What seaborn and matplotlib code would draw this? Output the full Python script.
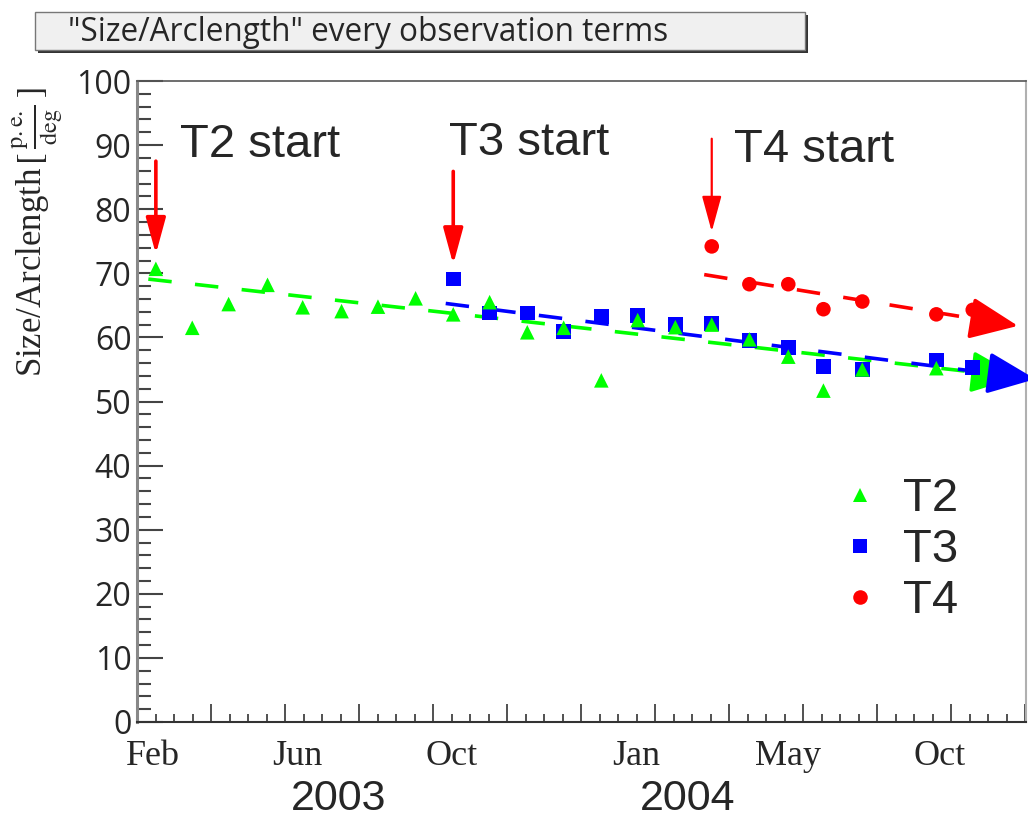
import numpy as np
import pandas as pd
import matplotlib
matplotlib.use("Agg")
import matplotlib.pyplot as plt
from matplotlib.patches import Rectangle
from matplotlib.ticker import FixedLocator, MultipleLocator
import seaborn as sns

# days since 2003-01-01 of each observation term, and Size/Arclength [p.e./deg]
t2_day = [45, 74, 103, 134, 162, 193, 222, 252, 282, 311, 341, 370, 400, 429, 459, 488, 518, 549, 577, 608, 667]
t2_val = [70.7, 61.5, 65.2, 68.2, 64.7, 64.1, 64.8, 66.1, 63.6, 65.5, 60.8, 61.5, 53.3, 62.7, 61.6, 62.0, 59.7, 57.0, 51.7, 55.0, 55.2]
t3_day = [282, 311, 341, 370, 400, 429, 459, 488, 518, 549, 577, 608, 667, 696]
t3_val = [69.1, 63.8, 63.8, 60.9, 63.3, 63.4, 62.0, 62.2, 59.5, 58.4, 55.5, 55.0, 56.5, 55.3]
t4_day = [488, 518, 549, 577, 608, 667, 696]
t4_val = [74.2, 68.3, 68.3, 64.4, 65.6, 63.6, 64.3]

telescopes = ["T2", "T3", "T4"]
colors = {"T2": "#00ff00", "T3": "#0000ff", "T4": "#ff0000"}
markers = {"T2": "^", "T3": "s", "T4": "o"}

# trend lines: start / end day and value
trend_x0 = [39, 276, 482]
trend_x1 = [733, 746, 732]
trend_v0 = [69.1, 65.3, 69.8]
trend_v1 = [53.8, 53.5, 61.8]

# axis labels
month_pos = [43, 158, 281, 428, 549, 670]
month_names = ["Feb", "Jun", "Oct", "Jan", "May", "Oct"]
year_pos = [191, 469]
year_names = ["2003", "2004"]

# "start" annotations
start_text_x = [64, 279, 506]
start_text_y = [88.1, 88.5, 87.4]

sns.set_theme(style="white")
plt.rcParams["font.family"] = ["Open Sans", "DejaVu Sans"]
plt.rcParams["mathtext.fontset"] = "stix"

fig = plt.figure(figsize=(10.28, 8.21), dpi=100)
ax = fig.add_axes([0.1333, 0.1206, 0.8647, 0.7807])

# trend lines with arrow heads
for tel, x0, x1, v0, v1 in zip(telescopes, trend_x0, trend_x1, trend_v0, trend_v1):
    c = colors[tel]
    slope = (v1 - v0) / (x1 - x0)
    xb = x1 - 28
    ax.plot([x0, xb], [v0, v0 + slope * (xb - x0)], color=c, lw=2.6,
            dashes=(6.5, 6.5), zorder=2, clip_on=False)
    ax.annotate("", xy=(x1, v1), xytext=(xb, v0 + slope * (xb - x0)),
                arrowprops=dict(arrowstyle="-|>,head_length=1.5,head_width=0.65",
                                mutation_scale=20, color=c, lw=2.6,
                                shrinkA=0, shrinkB=0),
                annotation_clip=False, zorder=3)

# points: T3 first so the T2 triangles sit on top
df = pd.concat([
    pd.DataFrame({"day": t3_day, "val": t3_val, "tel": "T3"}),
    pd.DataFrame({"day": t2_day, "val": t2_val, "tel": "T2"}),
    pd.DataFrame({"day": t4_day, "val": t4_val, "tel": "T4"}),
], ignore_index=True)

sns.scatterplot(data=df, x="day", y="val", hue="tel", style="tel",
                hue_order=telescopes, style_order=telescopes,
                palette=colors, markers=markers, s=110, linewidth=0,
                ax=ax, zorder=4)

# red "start" arrows at the first term of each telescope
first_x = [t2_day[0], t3_day[0], t4_day[0]]
first_v = [t2_val[0], t3_val[0], t4_val[0]]
arrow_w = [2.6, 2.6, 1.6]
for i, tel in enumerate(telescopes):
    tip = first_v[i] + 2.3
    ax.annotate("", xy=(first_x[i], tip), xytext=(first_x[i], tip + 14.5),
                arrowprops=dict(arrowstyle="-|>,head_length=1.1,head_width=0.3",
                                mutation_scale=20, color="#ff0000", lw=arrow_w[i],
                                shrinkA=0, shrinkB=0), zorder=5)
    ax.text(start_text_x[i], start_text_y[i], f"{tel} start", fontsize=34,
            family="Liberation Sans", va="baseline", ha="left")

ax.set_xlim(30, 738.4)
ax.set_ylim(0, 100)

# ROOT-like inward ticks
ax.xaxis.set_major_locator(FixedLocator(np.arange(30, 740, 59)))
ax.xaxis.set_minor_locator(FixedLocator(np.arange(30, 740, 14.75)))
ax.yaxis.set_major_locator(MultipleLocator(10))
ax.yaxis.set_minor_locator(MultipleLocator(2))
ax.tick_params(axis="x", which="major", direction="in", length=13, width=1.2,
               color="#333333", labelbottom=False, bottom=True)
ax.tick_params(axis="x", which="minor", direction="in", length=6, width=1.2,
               color="#333333", bottom=True)
ax.tick_params(axis="y", which="major", direction="in", length=19, width=1.5,
               color="#444444", labelsize=23, pad=4, left=True)
ax.tick_params(axis="y", which="minor", direction="in", length=10, width=1.5,
               color="#444444", left=True)

ax.spines["left"].set_color("#888888")
ax.spines["left"].set_linewidth(2.2)
ax.spines["bottom"].set_color("#333333")
ax.spines["bottom"].set_linewidth(1.5)
ax.spines["top"].set_color("#555555")
ax.spines["top"].set_linewidth(1.2)
ax.spines["right"].set_color("#b0b0b0")
ax.spines["right"].set_linewidth(1.5)

sec = ax.secondary_xaxis("bottom")
sec.set_xticks(month_pos, month_names, fontfamily="Liberation Serif", fontsize=26)
sec.tick_params(length=0, pad=13)
sec.spines["bottom"].set_visible(False)

for xp, yr in zip(year_pos, year_names):
    ax.text(xp, -0.137, yr, transform=ax.get_xaxis_transform(), ha="center",
            va="baseline", fontsize=31, family="Liberation Sans")

ax.set_xlabel("")
ax.set_ylabel(r"Size/Arclength$\,[\,\frac{\mathrm{p.e.}}{\mathrm{deg}}\,]$",
              fontsize=25, family="Liberation Serif")
ax.yaxis.set_label_coords(-0.082, 0.764)

sns.move_legend(ax, "center", bbox_to_anchor=(0.858, 0.268), title=None,
                frameon=False, handlelength=0.8, handletextpad=0.5,
                labelspacing=0.15, prop={"family": "Liberation Sans", "size": 34})

# title box with shadow
fig.patches.append(Rectangle((0.037, 0.935), 0.749, 0.0463, transform=fig.transFigure,
                             facecolor="#333333", edgecolor="none", zorder=0))
fig.patches.append(Rectangle((0.034, 0.939), 0.749, 0.0463, transform=fig.transFigure,
                             facecolor="#f0f0f0", edgecolor="#777777", lw=1, zorder=1))
fig.text(0.066, 0.960, '"Size/Arclength" every observation terms', fontsize=22.7,
         family="Open Sans", va="center", ha="left", zorder=2)

fig.savefig("out.png", dpi=100)
